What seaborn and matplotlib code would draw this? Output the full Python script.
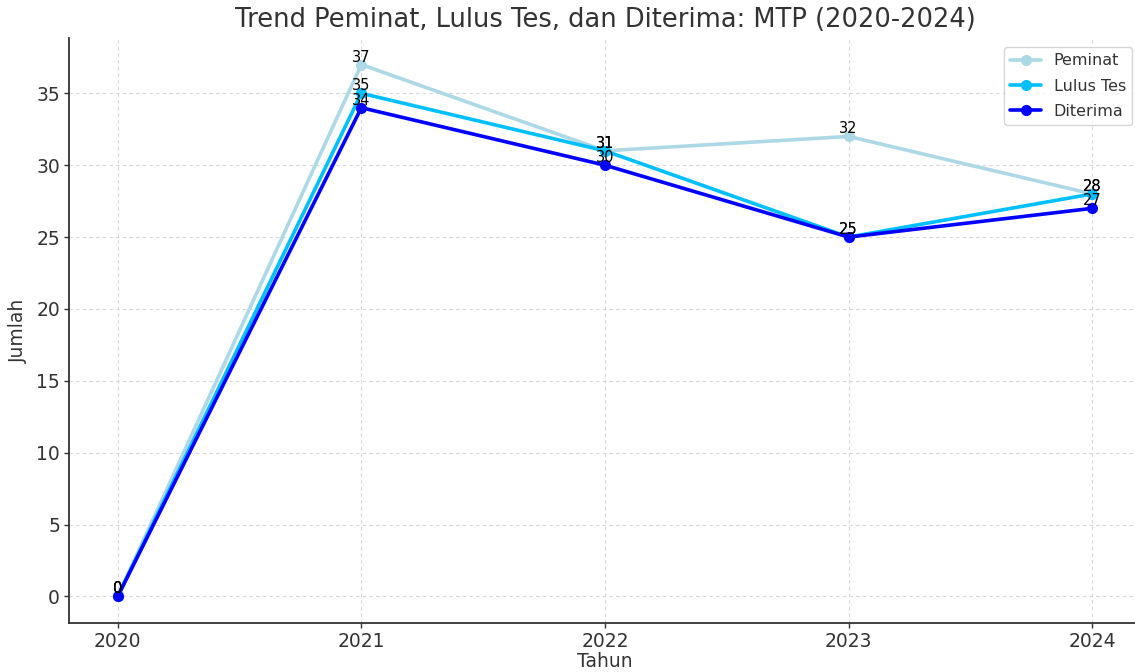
import matplotlib
matplotlib.use("Agg")
import matplotlib.pyplot as plt
import seaborn as sns
import pandas as pd

tahun = [2020, 2021, 2022, 2023, 2024]
peminat = [0, 37, 31, 32, 28]
lulus_tes = [0, 35, 31, 25, 28]
diterima = [0, 34, 30, 25, 27]
series_names = ["Peminat", "Lulus Tes", "Diterima"]
colors = ["#add8e6", "#00bfff", "#0000ff"]

sns.set_style("whitegrid")
plt.rcParams["font.family"] = ["DejaVu Sans"]
text_c = "#333333"

fig = plt.figure(figsize=(11.35, 6.72), dpi=100)
ax = fig.add_axes([69/1135, 1 - 623/672, (1141 - 69)/1135, (623 - 38)/672])

for name, vals, c in zip(series_names, [peminat, lulus_tes, diterima], colors):
    df = pd.DataFrame({"Tahun": tahun, "Jumlah": vals})
    sns.lineplot(data=df, x="Tahun", y="Jumlah", ax=ax, color=c, marker="o",
                 markersize=8, linewidth=2.6, markeredgecolor=c, markeredgewidth=0,
                 label=name)
    for x, y in zip(tahun, vals):
        ax.text(x, y, str(y), ha="center", va="bottom", fontsize=10.5, color="black")

ax.set_title("Trend Peminat, Lulus Tes, dan Diterima: MTP (2020-2024)", fontsize=18.5,
             color=text_c, pad=8)
ax.set_xlabel("Tahun", fontsize=13.5, color=text_c, labelpad=1)
ax.set_ylabel("Jumlah", fontsize=13.5, color=text_c, labelpad=6)
ax.set_xticks(tahun)
ax.set_xticklabels([str(t) for t in tahun])
ax.tick_params(axis="both", labelsize=13.5, colors=text_c, length=3.5, width=1,
               pad=3, direction="out", left=True, bottom=True)
ax.set_yticks([0, 5, 10, 15, 20, 25, 30, 35])

ax.grid(True, linestyle=(0, (3, 3)), color="#d5d5d5", linewidth=0.8)
ax.set_facecolor("white")
for s in ["top", "right"]:
    ax.spines[s].set_visible(False)
for s in ["left", "bottom"]:
    ax.spines[s].set_visible(True)
    ax.spines[s].set_color("#333333")
    ax.spines[s].set_linewidth(1.3)

leg = ax.legend(loc="upper right", bbox_to_anchor=((1137 - 69) / 1072, 1 - 4 / 585),
                fontsize=11.5, frameon=True, borderaxespad=0.3, labelspacing=0.65,
                handlelength=1.9)
leg.get_frame().set_edgecolor("#cccccc")
for t in leg.get_texts():
    t.set_color(text_c)

fig.savefig("out.png", dpi=100)
